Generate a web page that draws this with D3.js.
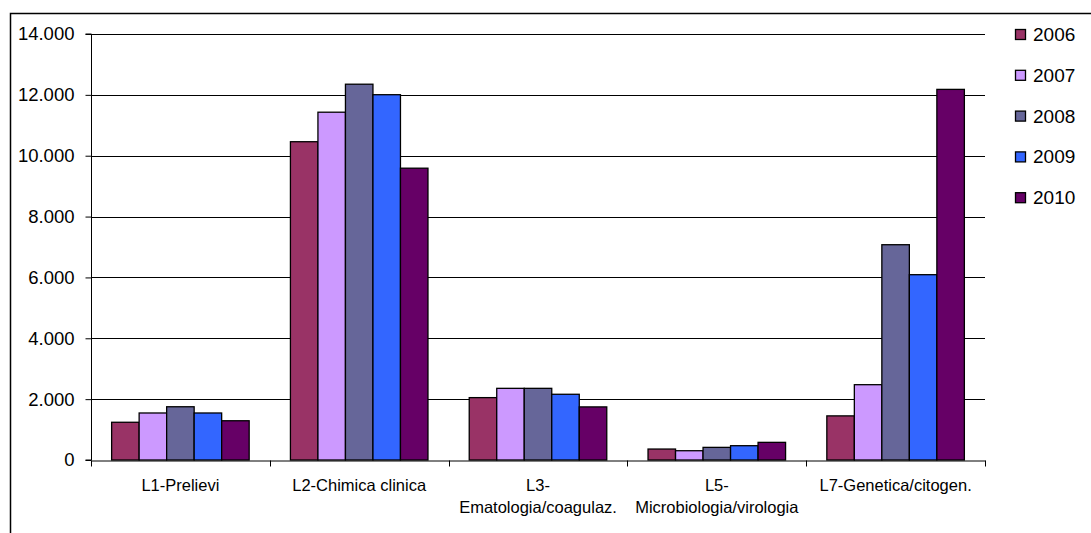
<!DOCTYPE html>
<html>
<head>
<meta charset="utf-8">
<script src="https://cdn.jsdelivr.net/npm/d3@7"></script>
<style>
  body { margin: 0; background: #fff; }
  text { font-family: "Liberation Sans", Arial, sans-serif; fill: #000; }
</style>
</head>
<body>
<div id="chart"></div>
<script>
const categories = ["L1-Prelievi", "L2-Chimica clinica", "L3-\nEmatologia/coagulaz.", "L5-\nMicrobiologia/virologia", "L7-Genetica/citogen."];
const years = ["2006", "2007", "2008", "2009", "2010"];
const colors = ["#993366", "#CC99FF", "#666699", "#3366FF", "#660066"];
// values per year, one entry per category
const v2006 = [1240, 10460, 2050, 360, 1450];
const v2007 = [1545, 11430, 2355, 305, 2475];
const v2008 = [1750, 12350, 2355, 415, 7075];
const v2009 = [1545, 12005, 2160, 470, 6090];
const v2010 = [1290, 9590, 1745, 580, 12180];
const yTicks = [0, 2000, 4000, 6000, 8000, 10000, 12000, 14000];

const series = [v2006, v2007, v2008, v2009, v2010];
const width = 1091, height = 533;
const margin = ({ top: 34, right: 106, bottom: 73, left: 91 });

const svg = d3.select("#chart").append("svg")
  .attr("width", width).attr("height", height);

// outer frame
svg.append("rect")
  .attr("x", 10.5).attr("y", 13.5)
  .attr("width", 1100).attr("height", 600)
  .attr("fill", "none").attr("stroke", "#000").attr("stroke-width", 1.5);

const x = d3.scaleBand()
  .domain(categories)
  .range([margin.left, width - margin.right])
  .padding(0);

const xInner = d3.scaleBand()
  .domain(years)
  .range([0, x.bandwidth()])
  .paddingInner(0).paddingOuter(0.75);

const y = d3.scaleLinear()
  .domain([0, 14000])
  .range([height - margin.bottom, margin.top]);

const locale = d3.formatLocale({ decimal: ",", thousands: ".", grouping: [3], currency: ["€", ""] });
const fmt = locale.format(",d");

// gridlines
svg.append("g")
  .selectAll("line")
  .data(yTicks.slice(1))
  .join("line")
  .attr("x1", margin.left).attr("x2", width - margin.right)
  .attr("y1", d => Math.round(y(d)) + 0.5).attr("y2", d => Math.round(y(d)) + 0.5)
  .attr("stroke", "#000").attr("stroke-width", 1);

// bars
const data = [];
categories.forEach((c, i) => years.forEach((yr, j) => data.push({ cat: c, year: yr, value: series[j][i], color: colors[j] })));

svg.append("g")
  .selectAll("rect")
  .data(data)
  .join("rect")
  .attr("x", d => x(d.cat) + xInner(d.year))
  .attr("y", d => y(d.value))
  .attr("width", xInner.bandwidth())
  .attr("height", d => y(0) - y(d.value))
  .attr("fill", d => d.color)
  .attr("stroke", "#000")
  .attr("stroke-width", 1.3);

// y axis
const yAxis = svg.append("g")
  .attr("transform", `translate(${margin.left + 0.5},0)`)
  .call(d3.axisLeft(y).tickValues(yTicks).tickFormat(fmt).tickSize(6).tickPadding(11));
yAxis.selectAll("text").style("font-size", "18.5px").attr("fill", "#000");
yAxis.selectAll("line, path").attr("stroke", "#000");
yAxis.select(".domain").attr("d", `M-6,${y(14000)}H0V${y(0)}H-6`);

// x axis
const xAxis = svg.append("g")
  .attr("transform", `translate(0,${y(0) + 0.5})`)
  .call(d3.axisBottom(x).tickSize(0).tickFormat(""));
xAxis.select(".domain").attr("stroke", "#000");
xAxis.selectAll(".sep")
  .data(d3.range(categories.length + 1))
  .join("line")
  .attr("class", "sep")
  .attr("x1", i => Math.round(margin.left + i * x.step()) + 0.5)
  .attr("x2", i => Math.round(margin.left + i * x.step()) + 0.5)
  .attr("y1", 0).attr("y2", 6)
  .attr("stroke", "#000");

// category labels
svg.append("g")
  .selectAll("text")
  .data(categories)
  .join("text")
  .attr("text-anchor", "middle")
  .style("font-size", "16.5px")
  .attr("transform", d => `translate(${x(d) + x.bandwidth() / 2},${y(0) + 31})`)
  .selectAll("tspan")
  .data(d => d.split("\n"))
  .join("tspan")
  .attr("x", 0)
  .attr("dy", (d, i) => i === 0 ? 0 : 22)
  .text(d => d);

// legend
const legend = svg.append("g")
  .selectAll("g")
  .data(years)
  .join("g")
  .attr("transform", (d, i) => `translate(1015,${34.5 + i * 40.8})`);

legend.append("rect")
  .attr("x", 0.5).attr("y", -5)
  .attr("width", 10).attr("height", 10)
  .attr("fill", (d, i) => colors[i])
  .attr("stroke", "#000").attr("stroke-width", 1.3);

legend.append("text")
  .attr("x", 18).attr("y", 6.5)
  .style("font-size", "19px")
  .text(d => d);
</script>
</body>
</html>
